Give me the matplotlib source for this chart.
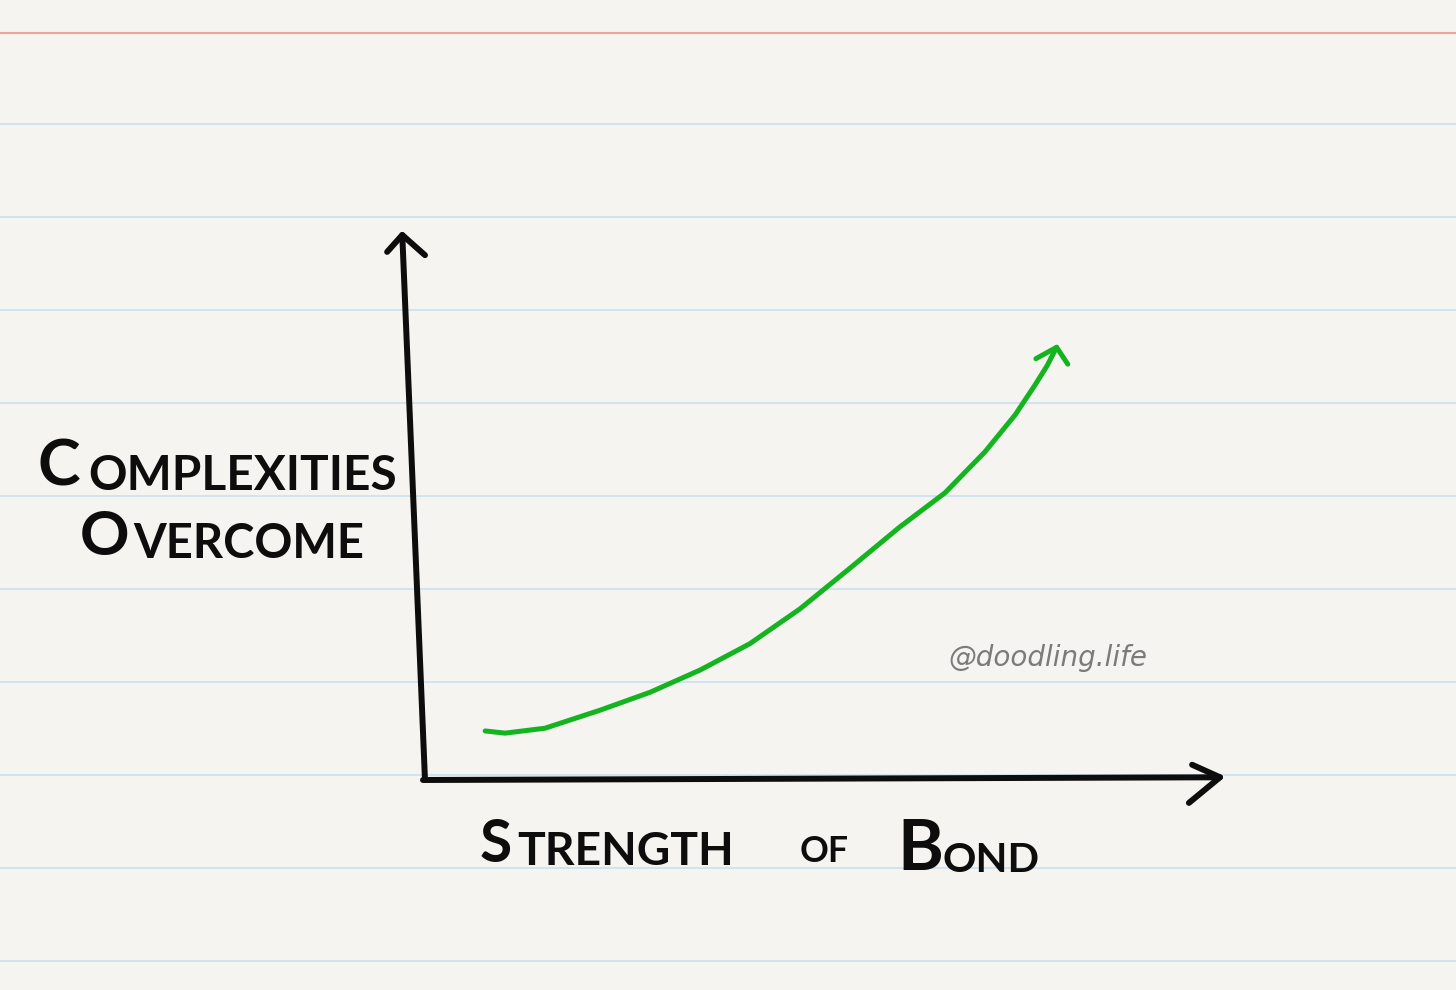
import matplotlib
matplotlib.use('Agg')
import matplotlib.pyplot as plt

W, H, DPI = 1456, 990, 100
BG = '#f5f4f0'
INK = '#0d0d0d'
GREEN = '#14b420'

# notebook paper ruling (pixel rows)
margin_line_y = 33
ruled_lines_y = [124, 217, 310, 403, 496, 589, 682, 775, 868, 961]

# curve data in chart units (0-10 on both axes)
strength = [0.78, 1.03, 1.53, 2.22, 2.85, 3.48, 4.10, 4.73, 5.36, 5.98,
            6.55, 7.05, 7.43, 7.68, 7.83, 7.95]
complexities = [0.90, 0.86, 0.95, 1.28, 1.61, 2.02, 2.50, 3.14, 3.89, 4.64,
                5.27, 6.02, 6.70, 7.25, 7.60, 7.94]

# labels
y_label = ["C", "OMPLEXITIES", "O", "VERCOME"]
x_label = ["S", "TRENGTH", "OF", "B", "OND"]
watermark = "@doodling.life"

fig = plt.figure(figsize=(W / DPI, H / DPI), dpi=DPI, facecolor=BG)

# background axes in pixel coordinates
bg = fig.add_axes([0, 0, 1, 1])
bg.set_xlim(0, W)
bg.set_ylim(H, 0)
bg.axis('off')
bg.set_facecolor(BG)
bg.axhline(margin_line_y, color='#f2a497', lw=1.5, zorder=1)
for yy in ruled_lines_y:
    bg.axhline(yy, color='#d0e2f0', lw=1.4, zorder=1)

# chart axes
ax = fig.add_axes([423 / W, 1 - 780 / H, 797 / W, 545 / H])
ax.set_xlim(0, 10)
ax.set_ylim(0, 10)
ax.axis('off')
ax.patch.set_alpha(0)

lw_axis = 4.3
kw_ax = dict(color=INK, lw=lw_axis, solid_capstyle='round', solid_joinstyle='round',
             clip_on=False, zorder=3)
# hand-drawn x axis with arrow
ax.plot([0, 10], [0, 0.05], **kw_ax)
ax.plot([9.65, 10, 9.61], [0.28, 0.05, -0.42], **kw_ax)
# hand-drawn y axis with arrow
ax.plot([0.025, -0.26], [0, 10], **kw_ax)
ax.plot([-0.45, -0.26, 0.025], [9.69, 10, 9.63], **kw_ax)

# green curve
kw_g = dict(color=GREEN, lw=3.6, solid_capstyle='round', solid_joinstyle='round',
            clip_on=False, zorder=4)
ax.plot(strength, complexities, **kw_g)
tx, ty = strength[-1], complexities[-1]
ax.plot([tx - 0.26, tx, tx + 0.14], [ty - 0.21, ty, ty - 0.31], **kw_g)

fig.canvas.draw()
renderer = fig.canvas.get_renderer()
FAMILY = ['Lato', 'DejaVu Sans']


def word(x0, y, s, cap_px=None, x1=None):
    size = (cap_px or 40) / 0.7165 * 72 / DPI
    t = bg.text(x0, y, s, fontsize=size, fontfamily=FAMILY, fontweight='bold',
                va='baseline', ha='left', color=INK, zorder=5)
    if x1 is not None:
        w = t.get_window_extent(renderer).width
        t.set_fontsize(size * (x1 - x0) / w)
    return t


# y label
word(38, 486, y_label[0], cap_px=46)
word(88, 490, y_label[1], x1=396)
word(80, 555, y_label[2], cap_px=44)
word(133, 558, y_label[3], x1=364)
# x label
word(480, 862, x_label[0], cap_px=42)
word(517, 865, x_label[1], x1=734)
word(800, 862, x_label[2], x1=849)
word(897, 870, x_label[3], cap_px=50)
word(942, 872, x_label[4], x1=1039)

bg.text(948, 666, watermark, fontsize=20, fontfamily='DejaVu Sans', fontstyle='italic',
        color='#7b7b7b', va='baseline', ha='left', zorder=5)

fig.savefig('out.png', dpi=DPI, facecolor=BG)
